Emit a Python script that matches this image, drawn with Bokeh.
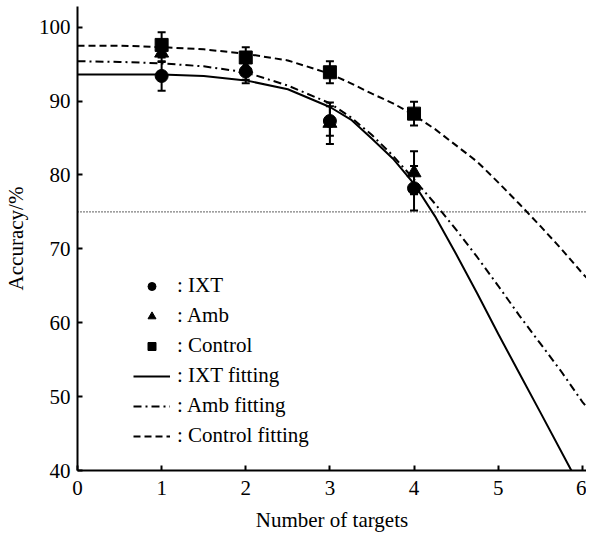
from bokeh.plotting import figure
from bokeh.models import (ColumnDataSource, Whisker, TeeHead, Legend, LegendItem,
                          Range1d, FixedTicker, Span)
from bokeh.embed import file_html
from bokeh.resources import INLINE

# ---------------- data ----------------
targets = [1, 2, 3, 4]

ixt_mean = [93.4, 94.0, 87.3, 78.2]
ixt_err = [2.0, 1.6, 2.0, 3.0]

amb_mean = [96.5, 94.4, 87.0, 80.3]
amb_err = [1.2, 1.5, 2.8, 2.9]

ctrl_mean = [97.6, 95.9, 93.9, 88.3]
ctrl_err = [1.7, 1.4, 1.5, 1.6]

fit_x_ixt = [0, 0.5, 1.0, 1.5, 2.0, 2.5, 3.0, 3.25, 3.5, 3.75, 4.0, 4.25, 4.5, 4.75, 5.0, 5.25, 5.5, 5.87]
fit_ixt = [93.6, 93.6, 93.6, 93.4, 92.8, 91.6, 89.2, 87.5, 84.9, 82.2, 78.8, 74.4, 69.3, 64.0, 58.5, 53.2, 47.9, 40.0]

fit_x_amb = [0, 0.5, 1.0, 1.5, 2.0, 2.5, 3.0, 3.25, 3.5, 3.75, 4.0, 4.25, 4.5, 4.75, 5.0, 5.25, 5.5, 5.75, 6.0, 6.05]
fit_amb = [95.4, 95.3, 95.1, 94.7, 93.9, 92.1, 89.7, 87.8, 85.4, 82.6, 79.4, 76.1, 72.6, 68.9, 65.0, 61.0, 57.2, 53.4, 49.3, 48.6]

fit_x_ctrl = [0, 0.5, 1.0, 1.5, 2.0, 2.5, 3.0, 3.25, 3.5, 3.75, 4.0, 4.25, 4.5, 4.75, 5.0, 5.25, 5.5, 5.75, 6.0, 6.05]
fit_ctrl = [97.5, 97.5, 97.3, 97.0, 96.4, 95.5, 93.7, 92.4, 91.0, 89.7, 88.1, 86.2, 84.0, 81.8, 79.0, 76.1, 73.1, 70.0, 66.7, 66.1]

threshold = 75
x_ticks = [0, 1, 2, 3, 4, 5, 6]
y_ticks = [40, 50, 60, 70, 80, 90, 100]

FONT = "Liberation Serif"

# ---------------- figure ----------------
p = figure(width=586, height=534, output_backend="svg", toolbar_location=None,
           x_range=Range1d(0, 6.05), y_range=Range1d(40, 102.8),
           min_border_left=70, min_border_right=0, min_border_top=6,
           min_border_bottom=64)
p.outline_line_color = None
p.xgrid.visible = False
p.ygrid.visible = False
p.background_fill_color = "white"

for ax in (p.xaxis[0], p.yaxis[0]):
    ax.axis_line_width = 2
    ax.axis_line_color = "black"
    ax.major_tick_in = 5
    ax.major_tick_out = 0
    ax.major_tick_line_width = 2
    ax.minor_tick_line_color = None
    ax.major_label_text_font = FONT
    ax.major_label_text_font_size = "21px"
    ax.major_label_text_color = "black"
    ax.axis_label_text_font = FONT
    ax.axis_label_text_font_size = "21px"
    ax.axis_label_text_font_style = "normal"
    ax.axis_label_text_color = "black"

p.xaxis.ticker = FixedTicker(ticks=x_ticks)
p.yaxis.ticker = FixedTicker(ticks=y_ticks)
p.xaxis.axis_label = "Number of targets"
p.yaxis.axis_label = "Accuracy/%"
p.xaxis.major_label_standoff = 10
p.yaxis.major_label_standoff = 7
p.xaxis.axis_label_standoff = 10
p.yaxis.axis_label_standoff = 8

# threshold line
p.add_layout(Span(location=threshold, dimension="width", line_color="black",
                  line_width=1.4, line_dash="1 2"))

# fitting curves
r_fit_ixt = p.line(fit_x_ixt, fit_ixt, line_color="black", line_width=2)
r_fit_amb = p.line(fit_x_amb, fit_amb, line_color="black", line_width=2,
                   line_dash="8 4 2 4")
r_fit_ctrl = p.line(fit_x_ctrl, fit_ctrl, line_color="black", line_width=2,
                    line_dash="7 4")

# error bars
def add_errors(mean, err):
    src = ColumnDataSource(dict(
        x=targets,
        upper=[m + e for m, e in zip(mean, err)],
        lower=[m - e for m, e in zip(mean, err)],
    ))
    w = Whisker(source=src, base="x", upper="upper", lower="lower",
                line_color="black", line_width=2,
                upper_head=TeeHead(size=8, line_color="black", line_width=2),
                lower_head=TeeHead(size=8, line_color="black", line_width=2))
    p.add_layout(w)

add_errors(ctrl_mean, ctrl_err)
add_errors(amb_mean, amb_err)
add_errors(ixt_mean, ixt_err)

# markers
r_ctrl = p.scatter(targets, ctrl_mean, marker="square", size=13,
                   fill_color="black", line_color="black")
r_amb = p.scatter(targets, amb_mean, marker="triangle", size=14,
                  fill_color="black", line_color="black")
r_ixt = p.scatter(targets, ixt_mean, marker="circle", size=13,
                  fill_color="black", line_color="black")

legend = Legend(items=[
    LegendItem(label=": IXT", renderers=[r_ixt]),
    LegendItem(label=": Amb", renderers=[r_amb]),
    LegendItem(label=": Control", renderers=[r_ctrl]),
    LegendItem(label=": IXT fitting", renderers=[r_fit_ixt]),
    LegendItem(label=": Amb fitting", renderers=[r_fit_amb]),
    LegendItem(label=": Control fitting", renderers=[r_fit_ctrl]),
], location=(56, 22))
legend.label_text_font = FONT
legend.label_text_font_size = "21px"
legend.label_text_color = "black"
legend.glyph_width = 37
legend.glyph_height = 20
legend.label_height = 20
legend.spacing = 5
legend.padding = 0
legend.margin = 0
legend.label_standoff = 7
legend.border_line_color = None
legend.background_fill_alpha = 0
p.add_layout(legend)

open("out.html", "w").write(file_html(p, INLINE))
